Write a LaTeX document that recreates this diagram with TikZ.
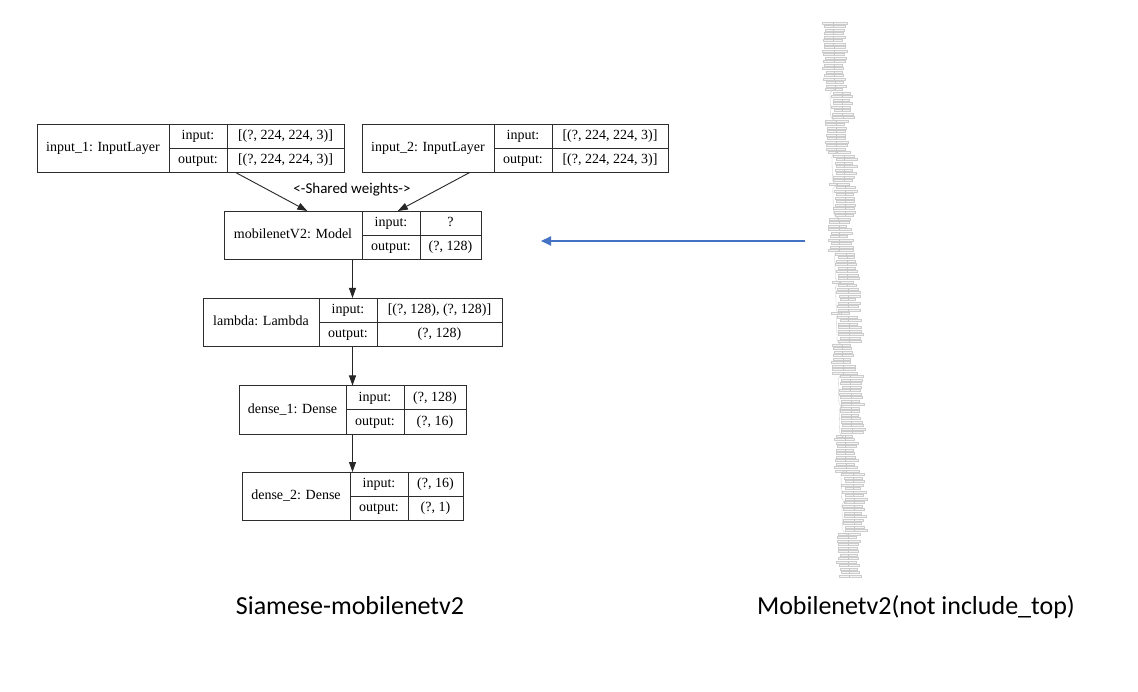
\documentclass[tikz,border=0pt]{standalone}
\usepackage{fontspec}
\setmainfont{Liberation Serif}
\newfontfamily\calfont{Carlito}
\usetikzlibrary{arrows.meta}
\definecolor{officeblue}{RGB}{68,114,196}
\definecolor{recgray}{RGB}{45,45,45}
\tikzset{
  rec/.style={draw=recgray, line width=0.9pt, inner sep=0pt, outer sep=0pt},
  recline/.style={draw=recgray, line width=0.9pt},
  cell/.style={inner sep=0pt, text height=10pt, text depth=3pt, font=\fontsize{14}{16}\selectfont},
  flow/.style={draw=black!85, line width=0.9pt, -{Triangle[length=10pt,width=7pt]}},
  bluearrow/.style={draw=officeblue, line width=2pt, -{Triangle[length=10pt,width=9pt]}},
  caption/.style={font=\calfont\fontsize{26}{30}\selectfont, inner sep=0pt, anchor=base},
  sharedlbl/.style={font=\calfont\fontsize{15}{18}\selectfont, inner sep=0pt, anchor=base},
  stripbox/.style={draw=black!20, fill=black!4, line width=0.25pt},
  stripline/.style={draw=black!22, line width=0.3pt},
}
\newcommand\kerasrec[9]{%
  \pgfmathsetmacro\krcx{(#2+#5)/2}%
  \pgfmathsetmacro\krcy{#6+24.25}%
  \pgfmathsetmacro\krb{#6+48.5}%
  \pgfmathsetmacro\krw{#5-#2}%
  \pgfmathsetmacro\krla{(#2+#3)/2}%
  \pgfmathsetmacro\krio{(#3+#4)/2}%
  \pgfmathsetmacro\krva{(#4+#5)/2}%
  \pgfmathsetmacro\kru{#6+12.125}%
  \pgfmathsetmacro\krl{#6+36.375}%
  \node[rec, minimum width=\krw pt, minimum height=48.5pt] (#1) at (\krcx,\krcy) {};
  \draw[recline] (#3,#6) -- (#3,\krb);
  \draw[recline] (#4,#6) -- (#4,\krb);
  \draw[recline] (#3,\krcy) -- (#5,\krcy);
  \node[cell] at (\krla,\krcy) {#7};
  \node[cell] at (\krio,\kru) {input:};
  \node[cell] at (\krio,\krl) {output:};
  \node[cell] at (\krva,\kru) {#8};
  \node[cell] at (\krva,\krl) {#9};
}
\begin{document}
\begin{tikzpicture}[x=1pt, y=-1pt]
  \fill[white] (0,0) rectangle (1138,692);
  \useasboundingbox (0,0) rectangle (1138,692);

  % Siamese model records
  \kerasrec{in1}{37}{169}{227}{344}{124}{input\_1: InputLayer}{[(?, 224, 224, 3)]}{[(?, 224, 224, 3)]}
  \kerasrec{in2}{362}{494}{552}{668}{124}{input\_2: InputLayer}{[(?, 224, 224, 3)]}{[(?, 224, 224, 3)]}
  \kerasrec{mob}{224}{362}{420}{481}{211}{mobilenetV2: Model}{?}{(?, 128)}
  \kerasrec{lam}{203}{319}{377}{502}{298}{lambda: Lambda}{[(?, 128), (?, 128)]}{(?, 128)}
  \kerasrec{den1}{239}{346}{404}{466}{385.5}{dense\_1: Dense}{(?, 128)}{(?, 16)}
  \kerasrec{den2}{242}{350}{408}{463}{472}{dense\_2: Dense}{(?, 16)}{(?, 1)}

  \node[sharedlbl] (shared) at (352,194) {<-Shared weights->};

  \draw[flow] (in1) -- (mob);
  \draw[flow] (in2) -- (mob);
  \draw[flow] (mob) -- (lam);
  \draw[flow] (lam) -- (den1);
  \draw[flow] (den1) -- (den2);

  % blue arrow
  \coordinate (bsrc) at (805,241);
  \coordinate (bdst) at (541,241);
  \draw[bluearrow] (bsrc) -- (bdst);

  % miniature MobileNetV2 graph
  \pgfmathsetseed{11}
  \foreach \i in {0,...,158} {
    \pgfmathsetmacro\stY{23+3.5*\i}
    \pgfmathsetmacro\stsh{7*((\stY>91)*(\stY<119)+(\stY>154)*(\stY<183)+(\stY>187)*(\stY<216)+(\stY>252)*(\stY<281)+(\stY>284)*(\stY<313)+(\stY>314)*(\stY<343)+(\stY>376)*(\stY<406)+(\stY>407)*(\stY<436)+(\stY>472)*(\stY<501)+(\stY>502)*(\stY<533))}
    \pgfmathsetmacro\stcx{833+16*(\stY-23)/557+\stsh}
    \pgfmathsetmacro\stleft{\stcx-8-4*rnd}
    \pgfmathsetmacro\stright{\stcx+7+7*rnd}
    \pgfmathsetmacro\stya{\stY-1.0}
    \pgfmathsetmacro\styb{\stY+1.0}
    \draw[stripbox] (\stleft,\stya) rectangle (\stright,\styb);
    \draw[stripline] (\stcx,\stya) -- (\stcx,\styb);
  }
  \foreach \ga/\gb in {92/118,155/182,188/215,253/280,285/312,315/342,377/405,408/435,473/500,503/532} {
    \pgfmathsetmacro\gxa{833+16*(\ga-23)/557}
    \pgfmathsetmacro\gxb{833+16*(\gb-23)/557}
    \pgfmathsetmacro\gxaa{\gxa-5}
    \pgfmathsetmacro\gxbb{\gxb-5}
    \pgfmathsetmacro\gya{\ga-3}
    \pgfmathsetmacro\gyb{\gb+3}
    \draw[stripline, rounded corners=2pt] (\gxa,\gya) -- (\gxaa,\ga) -- (\gxbb,\gb) -- (\gxb,\gyb);
  }

  % captions
  \node[caption] (cap1) at (350,614) {Siamese-mobilenetv2};
  \node[caption] (cap2) at (916,614) {Mobilenetv2(not include\_top)};
\end{tikzpicture}
\end{document}
